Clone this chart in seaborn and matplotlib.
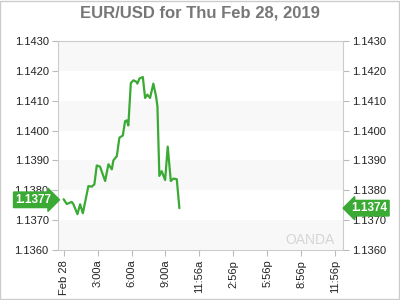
import matplotlib
matplotlib.use("Agg")
import matplotlib.pyplot as plt
import matplotlib.transforms as mtransforms
from matplotlib.patches import Rectangle
import seaborn as sns
import pandas as pd

# ---- data ----
hours = [0.0, 0.28, 0.72, 0.87, 1.22, 1.46, 1.70, 2.19, 2.49, 2.72, 2.93, 3.22, 3.46,
         3.67, 3.96, 4.26, 4.40, 4.70, 4.93, 5.23, 5.43, 5.58, 5.72, 5.94, 6.17, 6.40,
         6.52, 6.70, 7.00, 7.20, 7.40, 7.64, 7.93, 8.17, 8.29, 8.46, 8.67, 8.97, 9.20,
         9.47, 9.70, 10.0, 10.23]
prices = [1.1377, 1.13754, 1.13761, 1.13753, 1.13720, 1.13753, 1.13723, 1.13814,
          1.13812, 1.13820, 1.13883, 1.13879, 1.13853, 1.13831, 1.13887, 1.13870,
          1.13900, 1.13914, 1.13976, 1.13983, 1.14031, 1.14034, 1.14017, 1.14159,
          1.14168, 1.14164, 1.14157, 1.14174, 1.14179, 1.14109, 1.14120, 1.14109,
          1.14157, 1.14114, 1.14081, 1.13848, 1.13864, 1.13834, 1.13946, 1.13831,
          1.13839, 1.13837, 1.1374]
xtick_pos = [0, 3, 6, 9, 12, 15, 18, 21, 24]
xtick_labels = ["Feb 28", "3:00a", "6:00a", "9:00a", "11:56a", "2:56p", "5:56p", "8:56p", "11:56p"]
ytick_vals = [1.1360, 1.1370, 1.1380, 1.1390, 1.1400, 1.1410, 1.1420, 1.1430]
title = "EUR/USD for Thu Feb 28, 2019"

GREEN = "#3aaa35"

sns.set_style("white")
plt.rcParams["font.family"] = ["Liberation Sans", "DejaVu Sans"]

fig = plt.figure(figsize=(4, 3), dpi=100)
ax = fig.add_axes([0.146, 0.1667, 0.711, 0.697])

df = pd.DataFrame({"hour": hours, "price": prices})
sns.lineplot(data=df, x="hour", y="price", ax=ax, color=GREEN, linewidth=1.6)

ax.set_xlim(-0.46, 24.67)
ax.set_ylim(ytick_vals[0], ytick_vals[-1])

# alternating bands
for i in range(0, len(ytick_vals) - 1, 2):
    ax.axhspan(ytick_vals[i], ytick_vals[i + 1], color="#f8f8f8", zorder=0, lw=0)

ax.set_yticks(ytick_vals)
ax.set_yticklabels([f"{v:.4f}" for v in ytick_vals])
ax.set_xticks(xtick_pos)
ax.set_xticklabels(xtick_labels, rotation=90)
ax.tick_params(axis="y", which="both", left=True, right=True, labelleft=True,
               labelright=True, length=4, width=0.8, color="#bbbbbb",
               labelsize=8, labelcolor="#222222", pad=3)
ax.tick_params(axis="x", bottom=True, length=4, width=0.8, color="#bbbbbb",
               labelsize=8, labelcolor="#222222", pad=3)
ax.set_xlabel("")
ax.set_ylabel("")
for s in ax.spines.values():
    s.set_color("#cccccc")
    s.set_linewidth(0.8)

fig.text(0.5, 0.958, title, ha="center", va="center", fontsize=12,
         fontweight="bold", color="#777777")

# price tags
trans = mtransforms.blended_transform_factory(ax.transAxes, ax.transData)
ax.text(-0.025, prices[0] - 0.00002, f"{prices[0]:.4f}", transform=trans, ha="right", va="center",
        fontsize=8.5, fontweight="bold", color="white", zorder=10, clip_on=False,
        bbox=dict(boxstyle="rarrow,pad=0.15", fc=GREEN, ec=GREEN))
ax.text(1.03, prices[-1], f"{prices[-1]:.4f}", transform=trans, ha="left", va="center",
        fontsize=8.5, fontweight="bold", color="white", zorder=10, clip_on=False,
        bbox=dict(boxstyle="larrow,pad=0.15", fc=GREEN, ec=GREEN))

# watermark
ax.text(0.97, 0.05, "OANDA", transform=ax.transAxes, ha="right", va="center",
        fontsize=10, color="#d5d5d5", zorder=1)

# figure border
fig.patches.append(Rectangle((0.001, 0.002), 0.997, 0.995, transform=fig.transFigure,
                             fill=False, ec="#cccccc", lw=1))

fig.savefig("out.png", dpi=100)
